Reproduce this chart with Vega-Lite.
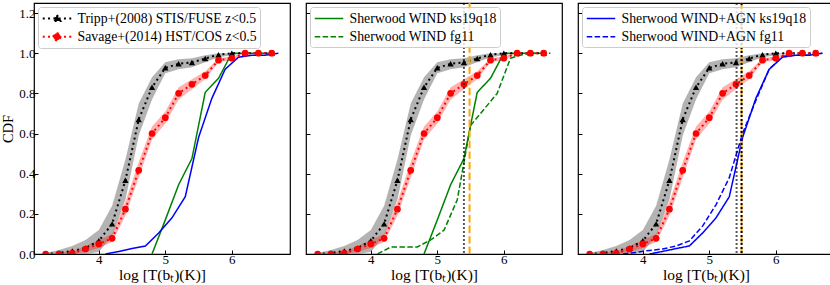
{
  "$schema": "https://vega.github.io/schema/vega-lite/v6.json",
  "padding": {"left": 0, "top": 1, "right": 0, "bottom": 0},
  "config": {
    "font": "Liberation Serif",
    "view": {"stroke": "black", "strokeWidth": 1.2},
    "axis": {"domain": false, "grid": false, "ticks": true, "tickSize": -4, "tickColor": "black", "tickWidth": 1, "labelColor": "black", "labelFontSize": 13, "labelFont": "Liberation Serif", "titleFont": "Liberation Serif", "titleFontSize": 15.5, "titleFontWeight": "normal", "titleColor": "black", "labelPadding": 3, "labelOverlap": false, "labelBound": false, "labelFlush": false},
    "axisX": {"titlePadding": 1},
    "axisY": {"titlePadding": 3, "titleFontSize": 14.5},
    "legend": {"title": null, "orient": "top-left", "offset": 4, "symbolSize": 225, "symbolOffset": 7.5, "labelOffset": 12, "padding": 3, "rowPadding": 2.3, "labelFontSize": 13.8, "labelFont": "Liberation Serif", "labelColor": "black", "labelLimit": 400, "fillColor": "rgba(255,255,255,0.8)", "strokeColor": "#cccccc", "cornerRadius": 3, "symbolStrokeWidth": 1.5}
  },
  "datasets": {
    "obs": [
      {"series": "Tripp+(2008) STIS/FUSE z<0.5", "x": 3.2, "y": 0.0, "lo": 0.0, "hi": 0.005},
      {"series": "Tripp+(2008) STIS/FUSE z<0.5", "x": 3.4, "y": 0.005, "lo": 0.0, "hi": 0.02},
      {"series": "Tripp+(2008) STIS/FUSE z<0.5", "x": 3.6, "y": 0.015, "lo": 0.0, "hi": 0.04},
      {"series": "Tripp+(2008) STIS/FUSE z<0.5", "x": 3.8, "y": 0.03, "lo": 0.0, "hi": 0.07},
      {"series": "Tripp+(2008) STIS/FUSE z<0.5", "x": 4.0, "y": 0.066, "lo": 0.01, "hi": 0.12},
      {"series": "Tripp+(2008) STIS/FUSE z<0.5", "x": 4.2, "y": 0.15, "lo": 0.09, "hi": 0.24},
      {"series": "Tripp+(2008) STIS/FUSE z<0.5", "x": 4.4, "y": 0.367, "lo": 0.27, "hi": 0.47},
      {"series": "Tripp+(2008) STIS/FUSE z<0.5", "x": 4.6, "y": 0.67, "lo": 0.59, "hi": 0.75},
      {"series": "Tripp+(2008) STIS/FUSE z<0.5", "x": 4.8, "y": 0.83, "lo": 0.77, "hi": 0.88},
      {"series": "Tripp+(2008) STIS/FUSE z<0.5", "x": 5.0, "y": 0.927, "lo": 0.9, "hi": 0.955},
      {"series": "Tripp+(2008) STIS/FUSE z<0.5", "x": 5.2, "y": 0.947, "lo": 0.92, "hi": 0.97},
      {"series": "Tripp+(2008) STIS/FUSE z<0.5", "x": 5.4, "y": 0.954, "lo": 0.93, "hi": 0.975},
      {"series": "Tripp+(2008) STIS/FUSE z<0.5", "x": 5.6, "y": 0.974, "lo": 0.955, "hi": 0.99},
      {"series": "Tripp+(2008) STIS/FUSE z<0.5", "x": 5.8, "y": 0.992, "lo": 0.98, "hi": 1.0},
      {"series": "Tripp+(2008) STIS/FUSE z<0.5", "x": 6.0, "y": 1.0, "lo": 0.99, "hi": 1.0},
      {"series": "Tripp+(2008) STIS/FUSE z<0.5", "x": 6.2, "y": 1.0, "lo": 1.0, "hi": 1.0},
      {"series": "Tripp+(2008) STIS/FUSE z<0.5", "x": 6.4, "y": 1.0, "lo": 1.0, "hi": 1.0},
      {"series": "Tripp+(2008) STIS/FUSE z<0.5", "x": 6.6, "y": 1.0, "lo": 1.0, "hi": 1.0},
      {"series": "Savage+(2014) HST/COS z<0.5", "x": 3.2, "y": 0.0, "lo": 0.0, "hi": 0.005},
      {"series": "Savage+(2014) HST/COS z<0.5", "x": 3.4, "y": 0.0, "lo": 0.0, "hi": 0.006},
      {"series": "Savage+(2014) HST/COS z<0.5", "x": 3.6, "y": 0.003, "lo": 0.0, "hi": 0.012},
      {"series": "Savage+(2014) HST/COS z<0.5", "x": 3.8, "y": 0.025, "lo": 0.01, "hi": 0.04},
      {"series": "Savage+(2014) HST/COS z<0.5", "x": 4.0, "y": 0.05, "lo": 0.03, "hi": 0.07},
      {"series": "Savage+(2014) HST/COS z<0.5", "x": 4.2, "y": 0.078, "lo": 0.06, "hi": 0.1},
      {"series": "Savage+(2014) HST/COS z<0.5", "x": 4.4, "y": 0.223, "lo": 0.19, "hi": 0.26},
      {"series": "Savage+(2014) HST/COS z<0.5", "x": 4.6, "y": 0.417, "lo": 0.38, "hi": 0.46},
      {"series": "Savage+(2014) HST/COS z<0.5", "x": 4.8, "y": 0.6, "lo": 0.57, "hi": 0.635},
      {"series": "Savage+(2014) HST/COS z<0.5", "x": 5.0, "y": 0.679, "lo": 0.65, "hi": 0.71},
      {"series": "Savage+(2014) HST/COS z<0.5", "x": 5.2, "y": 0.8, "lo": 0.77, "hi": 0.83},
      {"series": "Savage+(2014) HST/COS z<0.5", "x": 5.4, "y": 0.845, "lo": 0.82, "hi": 0.87},
      {"series": "Savage+(2014) HST/COS z<0.5", "x": 5.6, "y": 0.889, "lo": 0.87, "hi": 0.91},
      {"series": "Savage+(2014) HST/COS z<0.5", "x": 5.8, "y": 0.965, "lo": 0.955, "hi": 0.975},
      {"series": "Savage+(2014) HST/COS z<0.5", "x": 6.0, "y": 0.975, "lo": 0.965, "hi": 0.985},
      {"series": "Savage+(2014) HST/COS z<0.5", "x": 6.2, "y": 1.0, "lo": 1.0, "hi": 1.0},
      {"series": "Savage+(2014) HST/COS z<0.5", "x": 6.4, "y": 1.0, "lo": 1.0, "hi": 1.0},
      {"series": "Savage+(2014) HST/COS z<0.5", "x": 6.6, "y": 1.0, "lo": 1.0, "hi": 1.0}
    ],
    "sim": [
      {"series": "Sherwood WIND ks19q18", "x": 4.8, "y": 0.0},
      {"series": "Sherwood WIND ks19q18", "x": 5.0, "y": 0.17},
      {"series": "Sherwood WIND ks19q18", "x": 5.2, "y": 0.345},
      {"series": "Sherwood WIND ks19q18", "x": 5.4, "y": 0.475},
      {"series": "Sherwood WIND ks19q18", "x": 5.6, "y": 0.805},
      {"series": "Sherwood WIND ks19q18", "x": 5.8, "y": 0.875},
      {"series": "Sherwood WIND ks19q18", "x": 6.0, "y": 1.0},
      {"series": "Sherwood WIND ks19q18", "x": 6.2, "y": 1.0},
      {"series": "Sherwood WIND ks19q18", "x": 6.4, "y": 1.0},
      {"series": "Sherwood WIND ks19q18", "x": 6.6, "y": 1.0},
      {"series": "Sherwood WIND fg11", "x": 4.1, "y": 0.0},
      {"series": "Sherwood WIND fg11", "x": 4.3, "y": 0.035},
      {"series": "Sherwood WIND fg11", "x": 4.5, "y": 0.035},
      {"series": "Sherwood WIND fg11", "x": 4.7, "y": 0.035},
      {"series": "Sherwood WIND fg11", "x": 4.9, "y": 0.07},
      {"series": "Sherwood WIND fg11", "x": 5.1, "y": 0.118},
      {"series": "Sherwood WIND fg11", "x": 5.3, "y": 0.27},
      {"series": "Sherwood WIND fg11", "x": 5.5, "y": 0.64},
      {"series": "Sherwood WIND fg11", "x": 5.7, "y": 0.72},
      {"series": "Sherwood WIND fg11", "x": 5.9, "y": 0.8},
      {"series": "Sherwood WIND fg11", "x": 6.1, "y": 0.975},
      {"series": "Sherwood WIND fg11", "x": 6.3, "y": 0.995},
      {"series": "Sherwood WIND fg11", "x": 6.5, "y": 1.0},
      {"series": "Sherwood WIND fg11", "x": 6.7, "y": 1.0},
      {"series": "Sherwood WIND+AGN ks19q18", "x": 4.1, "y": 0.0},
      {"series": "Sherwood WIND+AGN ks19q18", "x": 4.3, "y": 0.013},
      {"series": "Sherwood WIND+AGN ks19q18", "x": 4.5, "y": 0.027},
      {"series": "Sherwood WIND+AGN ks19q18", "x": 4.7, "y": 0.04},
      {"series": "Sherwood WIND+AGN ks19q18", "x": 4.9, "y": 0.105},
      {"series": "Sherwood WIND+AGN ks19q18", "x": 5.1, "y": 0.18},
      {"series": "Sherwood WIND+AGN ks19q18", "x": 5.3, "y": 0.285},
      {"series": "Sherwood WIND+AGN ks19q18", "x": 5.5, "y": 0.58},
      {"series": "Sherwood WIND+AGN ks19q18", "x": 5.7, "y": 0.775},
      {"series": "Sherwood WIND+AGN ks19q18", "x": 5.9, "y": 0.92},
      {"series": "Sherwood WIND+AGN ks19q18", "x": 6.1, "y": 0.98},
      {"series": "Sherwood WIND+AGN ks19q18", "x": 6.3, "y": 0.99},
      {"series": "Sherwood WIND+AGN ks19q18", "x": 6.5, "y": 0.99},
      {"series": "Sherwood WIND+AGN ks19q18", "x": 6.7, "y": 1.0},
      {"series": "Sherwood WIND+AGN fg11", "x": 3.7, "y": 0.0},
      {"series": "Sherwood WIND+AGN fg11", "x": 3.9, "y": 0.008},
      {"series": "Sherwood WIND+AGN fg11", "x": 4.1, "y": 0.018},
      {"series": "Sherwood WIND+AGN fg11", "x": 4.3, "y": 0.025},
      {"series": "Sherwood WIND+AGN fg11", "x": 4.5, "y": 0.04},
      {"series": "Sherwood WIND+AGN fg11", "x": 4.7, "y": 0.065},
      {"series": "Sherwood WIND+AGN fg11", "x": 4.9, "y": 0.14},
      {"series": "Sherwood WIND+AGN fg11", "x": 5.1, "y": 0.245},
      {"series": "Sherwood WIND+AGN fg11", "x": 5.3, "y": 0.38},
      {"series": "Sherwood WIND+AGN fg11", "x": 5.5, "y": 0.6},
      {"series": "Sherwood WIND+AGN fg11", "x": 5.7, "y": 0.765},
      {"series": "Sherwood WIND+AGN fg11", "x": 5.9, "y": 0.92},
      {"series": "Sherwood WIND+AGN fg11", "x": 6.1, "y": 0.985},
      {"series": "Sherwood WIND+AGN fg11", "x": 6.3, "y": 0.99},
      {"series": "Sherwood WIND+AGN fg11", "x": 6.5, "y": 0.99},
      {"series": "Sherwood WIND+AGN fg11", "x": 6.7, "y": 1.0}
    ],
    "vlines": [
      {"panel": "p2", "x": 5.4, "k": "dot"},
      {"panel": "p2", "x": 5.485, "k": "orange"},
      {"panel": "p3", "x": 5.41, "k": "dot"},
      {"panel": "p3", "x": 5.485, "k": "orange"},
      {"panel": "p3", "x": 5.485, "k": "dot2"}
    ]
  },
  "spacing": 13,
  "resolve": {"scale": {"x": "independent", "y": "independent", "color": "independent", "strokeDash": "independent"}, "legend": {"color": "independent", "strokeDash": "independent"}},
  "hconcat": [
    {
      "width": 256, "height": 251,
      "layer": [
        {"data": {"name": "obs"}, "transform": [{"filter": "datum.series == 'Tripp+(2008) STIS/FUSE z<0.5'"}],
         "mark": {"type": "area", "color": "#808080", "opacity": 0.6, "clip": true},
         "encoding": {
           "x": {"field": "x", "type": "quantitative", "scale": {"domain": [3.025, 6.875], "nice": false, "zero": false}, "axis": {"values": [4, 5, 6], "format": "d", "title": "log [T(bₜ)(K)]"}},
           "y": {"field": "lo", "type": "quantitative", "scale": {"domain": [0, 1.25], "nice": false, "zero": false}, "axis": {"values": [0, 0.2, 0.4, 0.6, 0.8, 1.0, 1.2], "format": ".1f", "title": "CDF"}},
           "y2": {"field": "hi"}}},
        {"data": {"name": "obs"}, "transform": [{"filter": "datum.series == 'Savage+(2014) HST/COS z<0.5'"}],
         "mark": {"type": "area", "color": "red", "opacity": 0.3, "clip": true},
         "encoding": {
           "x": {"field": "x", "type": "quantitative", "scale": {"domain": [3.025, 6.875], "nice": false, "zero": false}},
           "y": {"field": "lo", "type": "quantitative", "scale": {"domain": [0, 1.25], "nice": false, "zero": false}},
           "y2": {"field": "hi"}}},
        {"data": {"name": "sim"}, "transform": [{"filter": "datum.series == 'Sherwood WIND ks19q18'"}],
         "mark": {"type": "line", "color": "green", "strokeWidth": 1.5, "clip": true},
         "encoding": {
           "x": {"field": "x", "type": "quantitative", "scale": {"domain": [3.025, 6.875], "nice": false, "zero": false}},
           "y": {"field": "y", "type": "quantitative", "scale": {"domain": [0, 1.25], "nice": false, "zero": false}}}},
        {"data": {"name": "sim"}, "transform": [{"filter": "datum.series == 'Sherwood WIND+AGN ks19q18'"}],
         "mark": {"type": "line", "color": "blue", "strokeWidth": 1.5, "clip": true},
         "encoding": {
           "x": {"field": "x", "type": "quantitative", "scale": {"domain": [3.025, 6.875], "nice": false, "zero": false}},
           "y": {"field": "y", "type": "quantitative", "scale": {"domain": [0, 1.25], "nice": false, "zero": false}}}},
        {"data": {"name": "obs"},
         "mark": {"type": "line", "strokeWidth": 2, "strokeDash": [2, 3.3], "clip": true},
         "encoding": {
           "x": {"field": "x", "type": "quantitative", "scale": {"domain": [3.025, 6.875], "nice": false, "zero": false}},
           "y": {"field": "y", "type": "quantitative", "scale": {"domain": [0, 1.25], "nice": false, "zero": false}},
           "color": {"field": "series", "type": "nominal", "scale": {"domain": ["Tripp+(2008) STIS/FUSE z<0.5", "Savage+(2014) HST/COS z<0.5"], "range": ["black", "red"]},
             "legend": {
               "values": ["Tripp+(2008) STIS/FUSE z<0.5", "Savage+(2014) HST/COS z<0.5"],
               "encode": {"symbols": {"update": {
                 "shape": {"signal": "datum.value == 'Tripp+(2008) STIS/FUSE z<0.5' ? 'M-1.9,0H1.9M0,-0.47L0.45,0.33L-0.45,0.33Z' : 'M-1.9,0H1.9M0.47,0A0.47,0.47,0,1,1,-0.47,0A0.47,0.47,0,1,1,0.47,0Z'"},
                 "fill": {"signal": "datum.value == 'Tripp+(2008) STIS/FUSE z<0.5' ? 'black' : 'red'"},
                 "stroke": {"signal": "datum.value == 'Tripp+(2008) STIS/FUSE z<0.5' ? 'black' : 'red'"},
                 "strokeDash": {"value": [2, 3.3]},
                 "strokeWidth": {"value": 2},
                 "opacity": {"value": 1}
               }}}
             }}}},
        {"data": {"name": "obs"}, "transform": [{"filter": "datum.series == 'Tripp+(2008) STIS/FUSE z<0.5'"}],
         "mark": {"type": "point", "shape": "triangle-up", "filled": true, "color": "black", "size": 40, "opacity": 1, "clip": true},
         "encoding": {
           "x": {"field": "x", "type": "quantitative", "scale": {"domain": [3.025, 6.875], "nice": false, "zero": false}},
           "y": {"field": "y", "type": "quantitative", "scale": {"domain": [0, 1.25], "nice": false, "zero": false}}}},
        {"data": {"name": "obs"}, "transform": [{"filter": "datum.series == 'Savage+(2014) HST/COS z<0.5'"}],
         "mark": {"type": "point", "shape": "circle", "filled": true, "color": "red", "size": 45, "opacity": 1, "clip": true},
         "encoding": {
           "x": {"field": "x", "type": "quantitative", "scale": {"domain": [3.025, 6.875], "nice": false, "zero": false}},
           "y": {"field": "y", "type": "quantitative", "scale": {"domain": [0, 1.25], "nice": false, "zero": false}}}}
      ]
    },
    {
      "width": 256, "height": 251,
      "layer": [
        {"data": {"name": "obs"}, "transform": [{"filter": "datum.series == 'Tripp+(2008) STIS/FUSE z<0.5'"}],
         "mark": {"type": "area", "color": "#808080", "opacity": 0.6, "clip": true},
         "encoding": {
           "x": {"field": "x", "type": "quantitative", "scale": {"domain": [3.025, 6.875], "nice": false, "zero": false}, "axis": {"values": [4, 5, 6], "format": "d", "title": "log [T(bₜ)(K)]"}},
           "y": {"field": "lo", "type": "quantitative", "scale": {"domain": [0, 1.25], "nice": false, "zero": false}, "axis": {"values": [0, 0.2, 0.4, 0.6, 0.8, 1.0, 1.2], "labels": false, "title": null, "minExtent": 0, "maxExtent": 0}},
           "y2": {"field": "hi"}}},
        {"data": {"name": "obs"}, "transform": [{"filter": "datum.series == 'Savage+(2014) HST/COS z<0.5'"}],
         "mark": {"type": "area", "color": "red", "opacity": 0.3, "clip": true},
         "encoding": {
           "x": {"field": "x", "type": "quantitative", "scale": {"domain": [3.025, 6.875], "nice": false, "zero": false}},
           "y": {"field": "lo", "type": "quantitative", "scale": {"domain": [0, 1.25], "nice": false, "zero": false}},
           "y2": {"field": "hi"}}},
        {"data": {"name": "sim"}, "transform": [{"filter": "datum.series == 'Sherwood WIND ks19q18' || datum.series == 'Sherwood WIND fg11'"}],
         "mark": {"type": "line", "strokeWidth": 1.5, "clip": true},
         "encoding": {
           "x": {"field": "x", "type": "quantitative", "scale": {"domain": [3.025, 6.875], "nice": false, "zero": false}},
           "y": {"field": "y", "type": "quantitative", "scale": {"domain": [0, 1.25], "nice": false, "zero": false}},
           "color": {"field": "series", "type": "nominal", "scale": {"domain": ["Sherwood WIND ks19q18", "Sherwood WIND fg11"], "range": ["green", "green"]}, "legend": {"symbolType": "M-1.9,0H1.9"}},
           "strokeDash": {"field": "series", "type": "nominal", "scale": {"domain": ["Sherwood WIND ks19q18", "Sherwood WIND fg11"], "range": [[1, 0], [5.5, 2.4]]}, "legend": {"symbolType": "M-1.9,0H1.9"}}}},
        {"data": {"name": "obs"}, "transform": [{"filter": "datum.series == 'Tripp+(2008) STIS/FUSE z<0.5'"}],
         "mark": {"type": "line", "color": "black", "strokeWidth": 2, "strokeDash": [2, 3.3], "clip": true},
         "encoding": {
           "x": {"field": "x", "type": "quantitative", "scale": {"domain": [3.025, 6.875], "nice": false, "zero": false}},
           "y": {"field": "y", "type": "quantitative", "scale": {"domain": [0, 1.25], "nice": false, "zero": false}}}},
        {"data": {"name": "obs"}, "transform": [{"filter": "datum.series == 'Savage+(2014) HST/COS z<0.5'"}],
         "mark": {"type": "line", "color": "red", "strokeWidth": 2, "strokeDash": [2, 3.3], "clip": true},
         "encoding": {
           "x": {"field": "x", "type": "quantitative", "scale": {"domain": [3.025, 6.875], "nice": false, "zero": false}},
           "y": {"field": "y", "type": "quantitative", "scale": {"domain": [0, 1.25], "nice": false, "zero": false}}}},
        {"data": {"name": "obs"}, "transform": [{"filter": "datum.series == 'Tripp+(2008) STIS/FUSE z<0.5'"}],
         "mark": {"type": "point", "shape": "triangle-up", "filled": true, "color": "black", "size": 40, "opacity": 1, "clip": true},
         "encoding": {
           "x": {"field": "x", "type": "quantitative", "scale": {"domain": [3.025, 6.875], "nice": false, "zero": false}},
           "y": {"field": "y", "type": "quantitative", "scale": {"domain": [0, 1.25], "nice": false, "zero": false}}}},
        {"data": {"name": "obs"}, "transform": [{"filter": "datum.series == 'Savage+(2014) HST/COS z<0.5'"}],
         "mark": {"type": "point", "shape": "circle", "filled": true, "color": "red", "size": 45, "opacity": 1, "clip": true},
         "encoding": {
           "x": {"field": "x", "type": "quantitative", "scale": {"domain": [3.025, 6.875], "nice": false, "zero": false}},
           "y": {"field": "y", "type": "quantitative", "scale": {"domain": [0, 1.25], "nice": false, "zero": false}}}},
        {"data": {"name": "vlines"}, "transform": [{"filter": "datum.panel == 'p2' && datum.k == 'dot'"}],
         "mark": {"type": "rule", "color": "black", "strokeWidth": 2, "strokeDash": [2, 2], "opacity": 0.65},
         "encoding": {"x": {"field": "x", "type": "quantitative", "scale": {"domain": [3.025, 6.875], "nice": false, "zero": false}}}},
        {"data": {"name": "vlines"}, "transform": [{"filter": "datum.panel == 'p2' && datum.k == 'orange'"}],
         "mark": {"type": "rule", "color": "orange", "strokeWidth": 2, "strokeDash": [7.4, 3.2]},
         "encoding": {"x": {"field": "x", "type": "quantitative", "scale": {"domain": [3.025, 6.875], "nice": false, "zero": false}}}}
      ]
    },
    {
      "width": 256, "height": 251,
      "layer": [
        {"data": {"name": "obs"}, "transform": [{"filter": "datum.series == 'Tripp+(2008) STIS/FUSE z<0.5'"}],
         "mark": {"type": "area", "color": "#808080", "opacity": 0.6, "clip": true},
         "encoding": {
           "x": {"field": "x", "type": "quantitative", "scale": {"domain": [3.025, 6.875], "nice": false, "zero": false}, "axis": {"values": [4, 5, 6], "format": "d", "title": "log [T(bₜ)(K)]"}},
           "y": {"field": "lo", "type": "quantitative", "scale": {"domain": [0, 1.25], "nice": false, "zero": false}, "axis": {"values": [0, 0.2, 0.4, 0.6, 0.8, 1.0, 1.2], "labels": false, "title": null, "minExtent": 0, "maxExtent": 0}},
           "y2": {"field": "hi"}}},
        {"data": {"name": "obs"}, "transform": [{"filter": "datum.series == 'Savage+(2014) HST/COS z<0.5'"}],
         "mark": {"type": "area", "color": "red", "opacity": 0.3, "clip": true},
         "encoding": {
           "x": {"field": "x", "type": "quantitative", "scale": {"domain": [3.025, 6.875], "nice": false, "zero": false}},
           "y": {"field": "lo", "type": "quantitative", "scale": {"domain": [0, 1.25], "nice": false, "zero": false}},
           "y2": {"field": "hi"}}},
        {"data": {"name": "sim"}, "transform": [{"filter": "datum.series == 'Sherwood WIND+AGN ks19q18' || datum.series == 'Sherwood WIND+AGN fg11'"}],
         "mark": {"type": "line", "strokeWidth": 1.5, "clip": true},
         "encoding": {
           "x": {"field": "x", "type": "quantitative", "scale": {"domain": [3.025, 6.875], "nice": false, "zero": false}},
           "y": {"field": "y", "type": "quantitative", "scale": {"domain": [0, 1.25], "nice": false, "zero": false}},
           "color": {"field": "series", "type": "nominal", "scale": {"domain": ["Sherwood WIND+AGN ks19q18", "Sherwood WIND+AGN fg11"], "range": ["blue", "blue"]}, "legend": {"symbolType": "M-1.9,0H1.9"}},
           "strokeDash": {"field": "series", "type": "nominal", "scale": {"domain": ["Sherwood WIND+AGN ks19q18", "Sherwood WIND+AGN fg11"], "range": [[1, 0], [5.5, 2.4]]}, "legend": {"symbolType": "M-1.9,0H1.9"}}}},
        {"data": {"name": "obs"}, "transform": [{"filter": "datum.series == 'Tripp+(2008) STIS/FUSE z<0.5'"}],
         "mark": {"type": "line", "color": "black", "strokeWidth": 2, "strokeDash": [2, 3.3], "clip": true},
         "encoding": {
           "x": {"field": "x", "type": "quantitative", "scale": {"domain": [3.025, 6.875], "nice": false, "zero": false}},
           "y": {"field": "y", "type": "quantitative", "scale": {"domain": [0, 1.25], "nice": false, "zero": false}}}},
        {"data": {"name": "obs"}, "transform": [{"filter": "datum.series == 'Savage+(2014) HST/COS z<0.5'"}],
         "mark": {"type": "line", "color": "red", "strokeWidth": 2, "strokeDash": [2, 3.3], "clip": true},
         "encoding": {
           "x": {"field": "x", "type": "quantitative", "scale": {"domain": [3.025, 6.875], "nice": false, "zero": false}},
           "y": {"field": "y", "type": "quantitative", "scale": {"domain": [0, 1.25], "nice": false, "zero": false}}}},
        {"data": {"name": "obs"}, "transform": [{"filter": "datum.series == 'Tripp+(2008) STIS/FUSE z<0.5'"}],
         "mark": {"type": "point", "shape": "triangle-up", "filled": true, "color": "black", "size": 40, "opacity": 1, "clip": true},
         "encoding": {
           "x": {"field": "x", "type": "quantitative", "scale": {"domain": [3.025, 6.875], "nice": false, "zero": false}},
           "y": {"field": "y", "type": "quantitative", "scale": {"domain": [0, 1.25], "nice": false, "zero": false}}}},
        {"data": {"name": "obs"}, "transform": [{"filter": "datum.series == 'Savage+(2014) HST/COS z<0.5'"}],
         "mark": {"type": "point", "shape": "circle", "filled": true, "color": "red", "size": 45, "opacity": 1, "clip": true},
         "encoding": {
           "x": {"field": "x", "type": "quantitative", "scale": {"domain": [3.025, 6.875], "nice": false, "zero": false}},
           "y": {"field": "y", "type": "quantitative", "scale": {"domain": [0, 1.25], "nice": false, "zero": false}}}},
        {"data": {"name": "vlines"}, "transform": [{"filter": "datum.panel == 'p3' && datum.k == 'dot'"}],
         "mark": {"type": "rule", "color": "black", "strokeWidth": 2, "strokeDash": [2, 2], "opacity": 0.65},
         "encoding": {"x": {"field": "x", "type": "quantitative", "scale": {"domain": [3.025, 6.875], "nice": false, "zero": false}}}},
        {"data": {"name": "vlines"}, "transform": [{"filter": "datum.panel == 'p3' && datum.k == 'orange'"}],
         "mark": {"type": "rule", "color": "orange", "strokeWidth": 2, "strokeDash": [7.4, 3.2]},
         "encoding": {"x": {"field": "x", "type": "quantitative", "scale": {"domain": [3.025, 6.875], "nice": false, "zero": false}}}},
        {"data": {"name": "vlines"}, "transform": [{"filter": "datum.panel == 'p3' && datum.k == 'dot2'"}],
         "mark": {"type": "rule", "color": "black", "strokeWidth": 2, "strokeDash": [2, 2]},
         "encoding": {"x": {"field": "x", "type": "quantitative", "scale": {"domain": [3.025, 6.875], "nice": false, "zero": false}}}}
      ]
    }
  ]
}
